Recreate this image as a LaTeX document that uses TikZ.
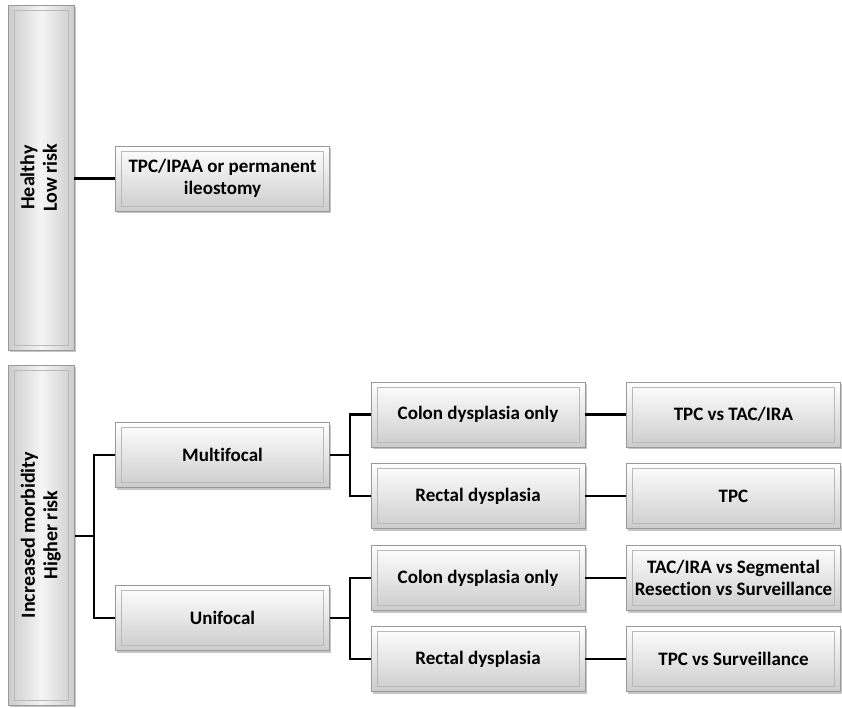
\documentclass[tikz,border=0pt]{standalone}
\usepackage{fontspec}
\setmainfont{Carlito}[Ligatures=NoCommon]
\usepackage{tikz}
\usetikzlibrary{positioning,shadows,calc}

\begin{document}
\begin{tikzpicture}[x=1pt, y=-1pt,
    box/.style={draw=gray!80, line width=0.7pt, top color=white, bottom color=gray!40,
      minimum width=214, minimum height=65, align=center, inner sep=2pt,
      font=\fontsize{19}{21.5}\selectfont\bfseries,
      drop shadow={shadow xshift=1.8pt, shadow yshift=-2.2pt, opacity=0.45},
      path picture={\draw[gray!55, line width=0.7pt]
        ([shift={(6pt,-5pt)}]path picture bounding box.north west) rectangle
        ([shift={(-6pt,5pt)}]path picture bounding box.south east);}},
    bar/.style={box, left color=gray!40, right color=gray!40, middle color=gray!8,
      minimum width=66, font=\fontsize{20}{22.5}\selectfont\bfseries},
    link/.style={line width=2.8pt, black}]

  \useasboundingbox (0,0) rectangle (842,707);

  % === Colonne de gauche ===
  \node[bar, minimum height=345] (healthy) at (41,177.5)
    {\rotatebox{90}{\begin{tabular}{c}Healthy\\Low risk\end{tabular}}};
  \node[bar, minimum height=340] (morbid) at (41.5,535)
    {\rotatebox{90}{\begin{tabular}{c}Increased morbidity\\Higher risk\end{tabular}}};

  % === Niveau 1 ===
  \node[box] (ileo)  at (222.5,178.5) {TPC/IPAA or permanent\\ileostomy};
  \node[box] (multi) at (222.5,455)   {Multifocal};
  \node[box] (uni)   at (222.5,618)   {Unifocal};

  % === Niveau 2 ===
  \node[box] (colonM) at (478,414.5) {Colon dysplasia only};
  \node[box] (rectM)  at (478,496)   {Rectal dysplasia};
  \node[box] (colonU) at (478,578)   {Colon dysplasia only};
  \node[box] (rectU)  at (478,659)   {Rectal dysplasia};

  % === Niveau 3 ===
  \node[box] (tpctac)  at (733.5,414.5) {TPC vs TAC/IRA};
  \node[box] (tpc)     at (733.5,496)   {TPC};
  \node[box] (tacira)  at (733.5,578)   {TAC/IRA vs Segmental\\Resection vs Surveillance};
  \node[box] (tpcsurv) at (733.5,659)   {TPC vs Surveillance};

  % === Points de branchement ===
  \coordinate (j1) at (94,536);
  \coordinate (j2) at (350,455);
  \coordinate (j3) at (350,618);

  % === Liaisons ===
  \draw[link] (healthy.east |- ileo.west) -- (ileo.west);

  \draw[link] (morbid.east |- j1) -- (j1);
  \draw[link] (multi.west) -- (multi.west -| j1) -- (uni.west -| j1) -- (uni.west);

  \draw[link] (multi.east) -- (j2);
  \draw[link] (colonM.west) -- (colonM.west -| j2) -- (rectM.west -| j2) -- (rectM.west);
  \draw[link] (uni.east) -- (j3);
  \draw[link] (colonU.west) -- (colonU.west -| j3) -- (rectU.west -| j3) -- (rectU.west);

  \foreach \a/\b in {colonM/tpctac, rectM/tpc, colonU/tacira, rectU/tpcsurv} {
    \draw[link] (\a.east) -- (\b.west);
  }

\end{tikzpicture}
\end{document}
